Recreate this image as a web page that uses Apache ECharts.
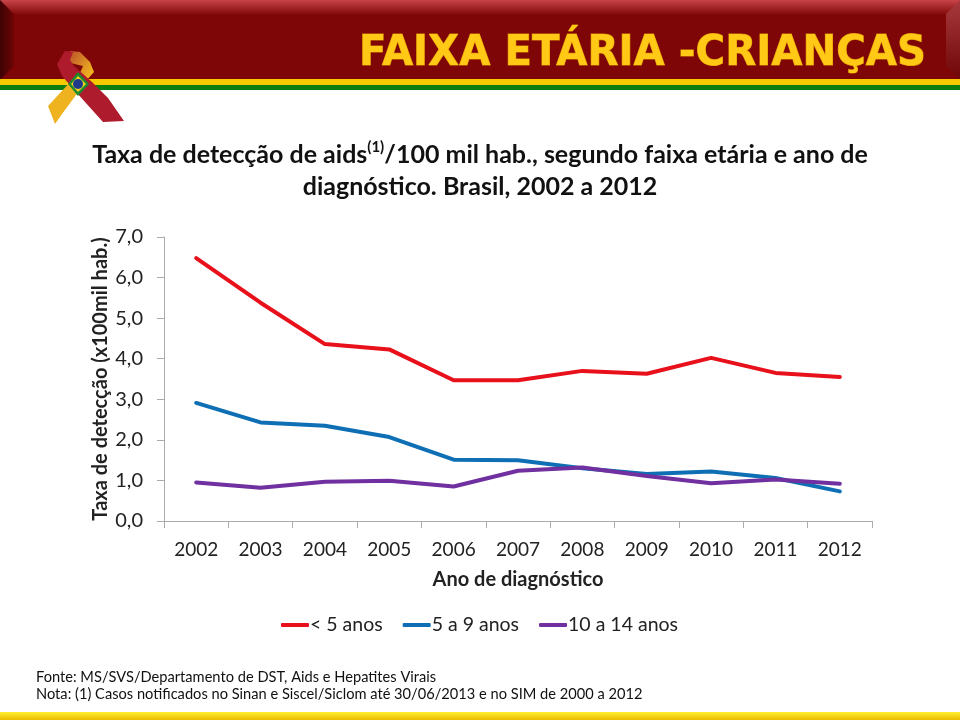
<!DOCTYPE html>
<html><head><meta charset="utf-8">
<style>html,body{margin:0;padding:0;background:#fff}#c{width:960px;height:720px}</style>
<script src="https://cdn.jsdelivr.net/npm/echarts@6/dist/echarts.min.js"></script>
</head><body><div id="c"></div>
<script>
const years = ['2002','2003','2004','2005','2006','2007','2008','2009','2010','2011','2012'];
const under5 = [6.48,5.38,4.36,4.23,3.47,3.47,3.70,3.63,4.02,3.65,3.55];
const age5to9 = [2.91,2.43,2.35,2.07,1.51,1.50,1.30,1.16,1.22,1.06,0.73];
const age10to14 = [0.95,0.82,0.97,0.99,0.85,1.24,1.32,1.11,0.93,1.02,0.92];
const seriesNames = ['< 5 anos','5 a 9 anos','10 a 14 anos'];
const seriesColors = ['#E8101A','#0F6FB4','#7030A0'];
const bannerText = 'FAIXA ETÁRIA -CRIANÇAS';
const footerText = 'Fonte: MS/SVS/Departamento de DST, Aids e Hepatites Virais\nNota: (1) Casos notificados no Sinan e Siscel/Siclom até 30/06/2013 e no SIM de 2000 a 2012';
const F = 'Lato, "Open Sans", sans-serif';
const LG = (x0,y0,x1,y1,a,b)=>new echarts.graphic.LinearGradient(x0,y0,x1,y1,[{offset:0,color:a},{offset:1,color:b}]);
const chart = echarts.init(document.getElementById('c'),null,{renderer:'canvas'});
const mk = (name,data,color)=>({name,type:'line',data,symbol:'none',smooth:false,
  lineStyle:{width:4,color,cap:'round',join:'round'},itemStyle:{color},emphasis:{disabled:true},animation:false});
chart.setOption({
  animation:false,
  backgroundColor:'#fff',
  title:[{
    text:'{b|Taxa de detecção de aids}{s|(1)}{b|/100 mil hab., segundo faixa etária e ano de}\n{b|diagnóstico. Brasil, 2002 a 2012}',
    left:475,top:130,textAlign:'center',
    textStyle:{rich:{
      b:{fontFamily:F,fontWeight:'bold',fontSize:25,color:'#111',lineHeight:32,verticalAlign:'bottom'},
      s:{fontFamily:F,fontWeight:'bold',fontSize:15,color:'#111',lineHeight:32,verticalAlign:'top',padding:[5,0,0,0]}
    }}
  }],
  legend:{left:281,top:615,padding:0,itemWidth:28,itemHeight:4,itemGap:20,icon:'roundRect',
    data:seriesNames,
    textStyle:{fontFamily:F,fontSize:19.5,color:'#222',padding:[0,0,0,-4]}},
  grid:{left:164,top:237,width:708,height:284},
  xAxis:{type:'category',data:years,boundaryGap:true,
    axisLine:{lineStyle:{color:'#ABABAB',width:1}},
    axisTick:{show:true,length:7,alignWithLabel:false,lineStyle:{color:'#ABABAB'}},
    axisLabel:{fontFamily:F,fontSize:19,color:'#222',margin:19,interval:0},
    name:'Ano de diagnóstico',nameLocation:'middle',nameGap:49,
    nameTextStyle:{fontFamily:F,fontSize:20,fontWeight:'bold',color:'#222'}},
  yAxis:{type:'value',min:0,max:7,interval:1,
    axisLine:{show:true,lineStyle:{color:'#ABABAB',width:1}},
    axisTick:{show:true,length:7,lineStyle:{color:'#ABABAB'}},
    splitLine:{show:false},
    axisLabel:{fontFamily:F,fontSize:20,color:'#222',margin:21,formatter:v=>v.toFixed(1).replace('.',',')},
    name:'Taxa de detecção (x100mil hab.)',nameLocation:'middle',nameGap:53,nameMoveOverlap:false,
    nameTextStyle:{fontFamily:F,fontSize:20,fontWeight:'bold',color:'#222'}},
  series:[mk(seriesNames[0],under5,seriesColors[0]),mk(seriesNames[1],age5to9,seriesColors[1]),mk(seriesNames[2],age10to14,seriesColors[2])],
  graphic:{elements:[
    {type:'rect',silent:true,z:-1,shape:{x:0,y:0,width:960,height:80},style:{fill:'#7F0606'}},
    {type:'rect',silent:true,z:0,shape:{x:0,y:0,width:960,height:15},style:{fill:LG(0,0,0,1,'#C8444A','#7F0606')}},
    {type:'polygon',silent:true,z:1,shape:{points:[[0,0],[14,14],[14,66],[0,80]]},style:{fill:LG(0,0,1,0,'#3E0203','#6E0506')}},
    {type:'polygon',silent:true,z:1,shape:{points:[[960,0],[946,14],[946,66],[960,80]]},style:{fill:LG(0,0,0,1,'#A83A3E','#6E0506')}},
    {type:'rect',silent:true,z:2,shape:{x:0,y:79,width:960,height:6},style:{fill:'#F6C900'}},
    {type:'rect',silent:true,z:2,shape:{x:0,y:85,width:960,height:5},style:{fill:'#0C7F10'}},
    {type:'rect',silent:true,z:2,shape:{x:0,y:712,width:960,height:8},style:{fill:LG(0,0,0,1,'#FFEE30','#E9BC00')}},
    {type:'text',silent:true,z:3,x:359,y:33,scaleX:0.96,style:{text:bannerText,font:'bold 42px "DejaVu Sans"',
      fill:'#FFC916',stroke:'#D98A00',lineWidth:1,
      shadowColor:'rgba(40,0,0,0.7)',shadowBlur:2,shadowOffsetX:1,shadowOffsetY:2}},
    {type:'text',silent:true,z:3,x:36,y:668,scaleX:0.915,style:{text:footerText,font:'16px Lato',fill:'#111',lineHeight:17}},
    {type:'polygon',silent:true,z:4,shape:{points:[[48,106],[55,124],[62,114],[79,91],[72,80]]},style:{fill:'#EFB320'}},
    {type:'polygon',silent:true,z:4,shape:{points:[[70,51],[80,52],[90,62],[94,72],[85,82],[79,75],[83,66],[66,62]]},style:{fill:LG(0,0,1,0.6,'#B5452B','#F0B420')}},
    {type:'polygon',silent:true,z:5,shape:{points:[[65,51],[73,52],[70,60],[74,66],[92,82],[108,98],[124,121],[103,122],[85,102],[62,76],[57,64]]},style:{fill:'#AD1B2C'}},
    {type:'polygon',silent:true,z:6,shape:{points:[[78,72],[89,84],[78,96],[68,84]]},style:{fill:'#1C8A2E'}},
    {type:'polygon',silent:true,z:7,shape:{points:[[78,76],[86,84],[78,92],[71,84]]},style:{fill:'#F4D21C'}},
    {type:'circle',silent:true,z:8,shape:{cx:78,cy:84,r:5},style:{fill:'#1F3A8A'}}
  ]}
});
</script></body></html>
